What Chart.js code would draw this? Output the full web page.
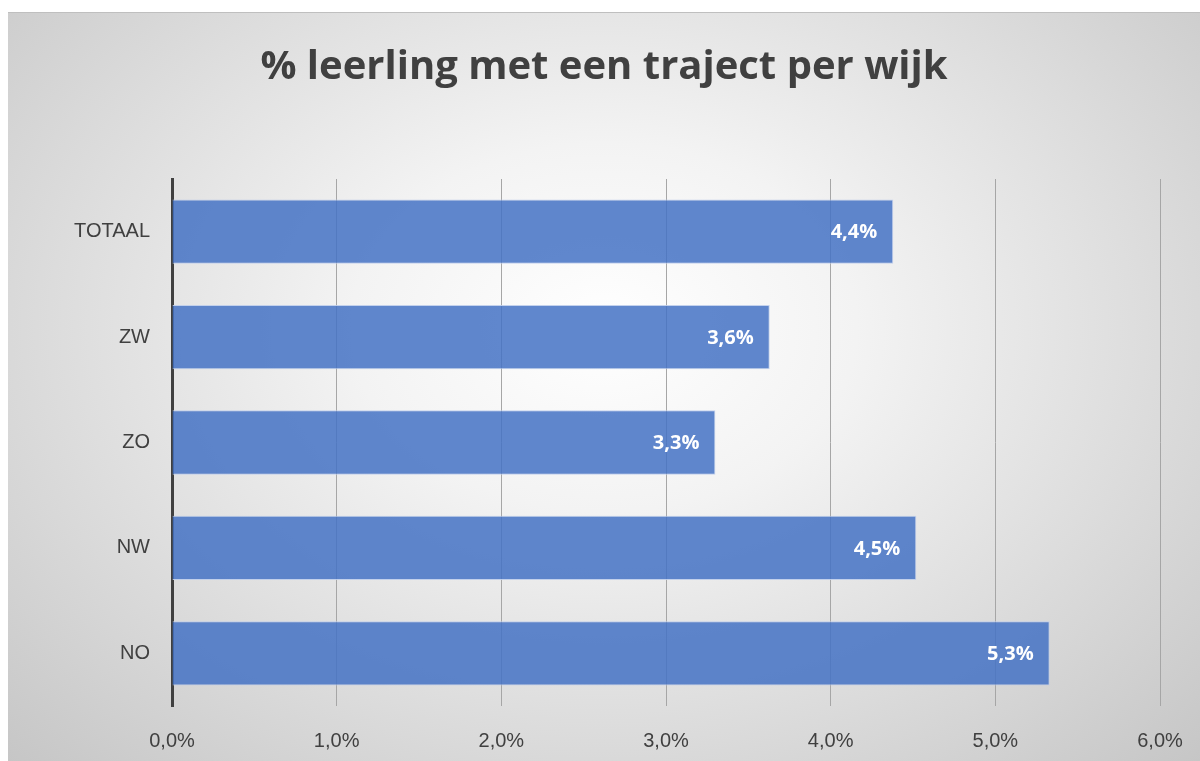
<!DOCTYPE html>
<html>
<head>
<meta charset="utf-8">
<script src="https://cdn.jsdelivr.net/npm/chart.js@4"></script>
<style>
  html, body { margin: 0; padding: 0; background: #fff; }
  #wrap {
    position: absolute; left: 8px; top: 12px; width: 1192px; height: 749px;
    border-top: 1px solid #bfbfbf; box-sizing: border-box;
    background: radial-gradient(ellipse farthest-corner at 50% 42%, #ffffff 0%, #f3f3f3 30%, #c6c6c6 100%);
  }
  canvas { display: block; }
</style>
</head>
<body>
<div id="wrap"><canvas id="chart" width="1192" height="748"></canvas></div>
<script>
const categories = ['TOTAAL', 'ZW', 'ZO', 'NW', 'NO'];
const values = [4.38, 3.63, 3.30, 4.52, 5.33];
const tickValues = [0, 1, 2, 3, 4, 5, 6];

const fmt = (v) => v.toFixed(1).replace('.', ',') + '%';

// white value labels at the inside end of each bar
const valueLabels = {
  id: 'valueLabels',
  afterDatasetsDraw(chart) {
    const ctx = chart.ctx;
    const meta = chart.getDatasetMeta(0);
    ctx.save();
    ctx.fillStyle = '#ffffff';
    ctx.font = 'bold 20px "Open Sans", sans-serif';
    ctx.textAlign = 'right';
    ctx.textBaseline = 'middle';
    meta.data.forEach((bar, i) => {
      ctx.fillText(fmt(values[i]), bar.x - 16, bar.y + 1);
    });
    ctx.restore();
  }
};

new Chart(document.getElementById('chart'), {
  type: 'bar',
  data: {
    labels: categories,
    datasets: [{
      data: values,
      backgroundColor: 'rgba(68,114,196,0.85)',
      borderColor: 'rgba(190,205,235,0.9)',
      borderWidth: 1,
      borderSkipped: 'start',
      categoryPercentage: 0.61,
      barPercentage: 1,
    }],
  },
  options: {
    indexAxis: 'y',
    responsive: false,
    animation: false,
    layout: { padding: 0 },
    plugins: {
      legend: { display: false },
      tooltip: { enabled: false },
      title: {
        display: true,
        text: '% leerling met een traject per wijk',
        color: '#404040',
        font: { family: '"Open Sans", sans-serif', size: 40, weight: 'bold', lineHeight: 1.2 },
        padding: { top: 31, bottom: 87 },
      },
    },
    scales: {
      x: {
        min: 0,
        max: 6,
        afterBuildTicks(scale) { scale.ticks = tickValues.map((v) => ({ value: v })); },
        afterFit(scale) { scale.height = 55; scale.paddingRight = 40; },
        grid: { color: '#a6a6a6', lineWidth: 1, drawTicks: false },
        border: { display: false },
        ticks: {
          color: '#404040',
          font: { family: '"Liberation Sans", Arial, sans-serif', size: 20 },
          padding: 23,
          callback: (v) => fmt(v),
        },
      },
      y: {
        afterFit(scale) { scale.width = 164; },
        grid: { display: false },
        border: { color: '#404040', width: 3 },
        ticks: {
          color: '#404040',
          font: { family: '"Liberation Sans", Arial, sans-serif', size: 20 },
          padding: 14,
        },
      },
    },
  },
  plugins: [valueLabels],
});
</script>
</body>
</html>
